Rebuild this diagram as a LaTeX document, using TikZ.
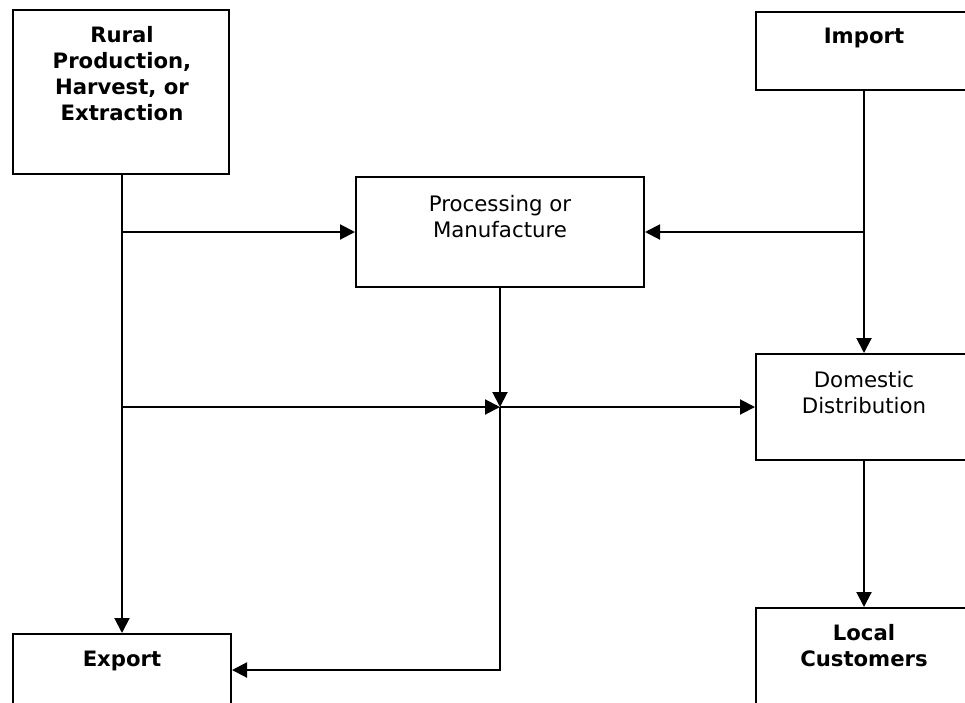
\documentclass[tikz,border=0pt]{standalone}
\usepackage{fontspec}
\setmainfont{DejaVu Sans}
\usetikzlibrary{arrows.meta}
\begin{document}
\begin{tikzpicture}[x=1pt,y=-1pt,
  box/.style={draw, line width=2pt, minimum width=#1, inner sep=0pt},
  lbl/.style={anchor=north, align=center, inner sep=0pt, font=\fontsize{21.3}{26}\selectfont},
  blbl/.style={lbl, font=\fontsize{21.2}{26}\selectfont\bfseries},
  conn/.style={line width=2pt, line join=miter},
  arr/.style={conn, -{Triangle[length=15pt,width=15pt]}}]
\useasboundingbox (0,0) rectangle (965,702);
\clip (0,0) rectangle (965,702);
% boxes
\node[box=216pt, minimum height=164pt] (rural) at (121,92) {};
\node[box=216pt, minimum height=78pt] (import) at (864,51) {};
\node[box=288pt, minimum height=110pt] (proc) at (500,232) {};
\node[box=216pt, minimum height=106pt] (dom) at (864,407) {};
\node[box=218pt, minimum height=90pt] (export) at (122,679) {};
\node[box=216pt, minimum height=120pt] (local) at (864,668) {};
% texts
\node[blbl] (ruralt) at (122,26) {Rural\\Production,\\Harvest, or\\Extraction};
\node[blbl] (importt) at (864,28) {Import};
\node[lbl] (proct) at (500,195) {Processing or\\Manufacture};
\node[lbl] (domt) at (864,371) {Domestic\\Distribution};
\node[blbl] (exportt) at (122,651) {Export};
\node[blbl] (localt) at (864,624) {Local\\Customers};
% junctions
\coordinate (j1) at (122,232);
\coordinate (j2) at (122,407);
\coordinate (j3) at (500,407);
\coordinate (j4) at (500,670);
\coordinate (j5) at (864,232);
% connectors
\draw[arr] (rural.south -| j1) -- (export.north -| j1);
\draw[arr] (j1) -- (proc.west);
\draw[arr] (j2) -- (j3);
\draw[arr] (proc.south) -- (j3);
\draw[arr] (j3) -- (dom.west);
\draw[arr] (j3) -- (j4) -- (j4 -| export.east);
\draw[arr] (import.south) -- (dom.north);
\draw[arr] (j5) -- (proc.east);
\draw[arr] (dom.south) -- (local.north);
\end{tikzpicture}
\end{document}
